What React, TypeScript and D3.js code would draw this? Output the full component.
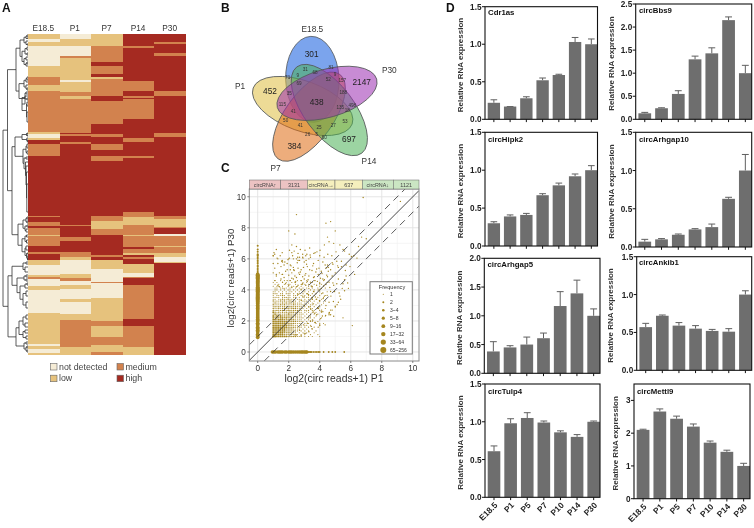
import React from "react";
import * as d3 from "d3";

// ---------- Panel A data ----------
const stages = ["E18.5", "P1", "P7", "P14", "P30"];
const levelNames = ["not detected", "low", "medium", "high"];
const levelColors: Record<string, string> = { n: "#f5ecd6", l: "#e6c27d", m: "#d2824e", h: "#a52a21" };
type Run = [string, number];
const heatE185: Run[] = [["l",5],["n",8],["l",12],["n",32],["l",43],["m",51],["l",57],["m",98],["l",100],["n",104],["l",106],["h",110],["m",122],["h",182],["m",183],["h",188],["m",192],["h",194],["m",201],["l",202],["m",212],["h",218],["m",220],["h",226],["l",231],["n",241],["l",243],["m",245],["n",252],["l",256],["n",279],["l",310],["n",312],["l",315],["n",319],["l",320]];
const heatP1: Run[] = [["n",5],["l",12],["n",22],["m",24],["l",46],["n",48],["l",58],["m",62],["l",65],["m",99],["h",100],["m",102],["h",108],["m",110],["h",191],["m",192],["h",203],["m",207],["h",218],["m",223],["l",226],["n",240],["l",244],["m",247],["n",251],["l",255],["n",265],["l",268],["n",280],["l",286],["m",313],["l",320]];
const heatP7: Run[] = [["l",12],["m",28],["h",32],["m",40],["h",43],["l",45],["m",62],["h",67],["m",90],["h",100],["m",103],["h",110],["m",116],["h",122],["m",127],["h",182],["m",187],["l",189],["l",195],["m",201],["h",221],["m",223],["h",226],["l",230],["l",235],["n",248],["m",249],["n",264],["l",287],["m",292],["l",303],["m",311],["l",318],["m",320]];
const heatP14: Run[] = [["h",12],["m",13.5],["h",47],["m",57],["h",62],["m",63.5],["h",65],["m",85],["h",104],["m",108],["h",122],["m",124],["h",178],["m",183],["l",191],["m",201],["l",202],["m",213],["h",215],["m",219],["l",221],["h",223],["m",225],["h",230],["l",239],["n",243],["m",244],["h",251],["m",285],["h",292],["m",313],["l",320]];
const heatP30: Run[] = [["h",8],["m",10],["h",19],["m",22],["h",57],["m",62],["h",99],["m",103],["h",182],["m",185],["l",193],["m",194],["h",200],["n",202],["m",212],["l",213],["m",219],["l",223],["n",228],["l",229],["h",320]];
const heatColumns = [heatE185, heatP1, heatP7, heatP14, heatP30];

type TreeNode = number | [number, ...TreeNode[]];
const dendroTop: TreeNode = [12,
  [8,
    [4, [2, [1, 1, 3], 4.5], [2, 7, [1, 10, 11]]],
    [6, [3, [1, 13, 16], [1, 19, 21]], [4, [2, 23, 26], [2, [1, 28, 30], 32]]]],
  [9,
    [4, [2, [1, 43, 46], 48], [2, 51, [1, 54, 56]]],
    [3, [2, 58, 60], [6, [3, 62, [1, 64, 66]], [1.5, [1, 68, 72], [1, 78, 88]]]]]];
const dendroMid: TreeNode = [16,
  [13,
    [6, [1.5, [0.8, 99, 100], [0.8, 101, 102]], [1.2, 104, [0.6, 106, 108]]],
    [5, [2, [1, 110, 114], [1, 117, 120]], [4, [2, 123, 125], [2.5, 128, [2, 132, [1.5, 138, [1.2, 150, 178]]]]]]],
  [10,
    [5, [2, [1, 183, 185], [1, 187, 189]], [3, [1, 191, 193], [2, 195, 198]]],
    [6, [3, [1.5, 201, 203], [1.5, 206, 209]], [3, [2, 212, 216], [1.5, [0.8, 219, 220], [0.8, 222, [0.5, 224, 226]]]]]]];
const dendroBottom: TreeNode = [20,
  [16, [5, [2, 228, 230], [3, 233, 238]], [11, [4, [2, 241, 243], [2, 245, 247]], [8, [3, [1, 249, 251], 254], [5, [2, 257, 262], [2, 268, 274]]]]],
  [12, [9, [5, [2, 281, 285], [3, 289, 293]], [5, [3, 296, 299], [2, 302, 305]]], [4, [2, 308, 310], [2, [1, 312, 314], [1, 316, 318]]]]];
const dendrogram: TreeNode = [25, [20.5, dendroTop, dendroMid], dendroBottom];

// ---------- Panel B data ----------
const vennNames = ["E18.5", "P1", "P7", "P14", "P30"];
const vennColors = ["#0f5ade", "#dfbd3f", "#de6a10", "#4ab156", "#9a2cb0"];
const vennShape = [
  { cx: 292, cy: 238, rx: 129, ry: 80, a: 88 },
  { cx: 263, cy: 318, rx: 158, ry: 75, a: 20 },
  { cx: 282, cy: 350, rx: 157, ry: 72, a: -54 },
  { cx: 343, cy: 330, rx: 162, ry: 75, a: 53 },
  { cx: 336, cy: 280, rx: 155, ry: 72, a: -16 },
];
const vennNameSpots = [[292, 87], [75, 258], [182, 503], [462, 484], [523, 210]];
const vennBig = [["301", 290, 161], ["452", 165, 272], ["2147", 440, 245], ["697", 402, 416], ["384", 238, 438], ["438", 305, 306]] as const;
const vennSmall = [["71",218,233],["31",271,208],["81",348,203],["68",300,218],["69",252,249],["52",340,238],["157",382,240],["35",223,281],["188",385,277],["115",202,312],["41",235,335],["135",376,323],["498",412,315],["50",212,360],["41",256,375],["25",312,381],["27",355,375],["53",390,365],["26",278,403],["60",328,412],["5",305,402],["9",248,225],["9",360,222],["18",397,330]] as const;

// ---------- Panel C data ----------
const stripCells = [["circRNA↑", "#ecc3c3"], ["3131", "#ecc3c3"], ["circRNA→", "#f5efbd"], ["637", "#f5efbd"], ["circRNA↓", "#cbe6c3"], ["1121", "#cbe6c3"]];
const stripWidths = [94, 80, 83, 82, 93, 77];
const freqLabels = ["1", "2", "3~4", "5~8", "9~16", "17~32", "33~64", "65~256"];
const freqRadius = [0.55, 1.0, 1.3, 1.6, 1.9, 2.2, 2.6, 3.0];
const denseRadius = [0.55, 0.72, 0.9, 1.15];
const readLevels = [1,1.12,1.24,1.36,1.48,1.6,1.72,1.84,1.96,2.08,2.2,2.32,2.44,2.56,2.68,2.8,2.92,3.04,3.16,3.28,3.4,3.52,3.64,3.76,3.88,4,4.12,4.24,4.36,4.48,4.6];
const denseMatrix = [
  "4433333322222111010101000100000",
  "3333332222211101010010001000000",
  "3333332222111010101000100000000",
  "3333333222211101010100010000000",
  "3333333222211110101001000000000",
  "3333333322221111010100100000000",
  "3333333322211101011010000100000",
  "3333333322221111010100010001000",
  "3333333322222111101011001000000",
  "3323332222221111010101000100000",
  "3232332322211111101010100010000",
  "3232322222212111010110010000100",
  "2322212222212111101010101000000",
  "3212121212221211010101010010000",
  "2121212122121211010101100100000",
  "2112122121222111101011001000100",
  "1212112112212111010110100100000",
  "2111212111121111101011010010000",
  "1211121212121111010101001001000",
  "2111212112111010111010100100100",
  "1101121121110111010101010010000",
  "1111011211011010101101001001000",
  "1011121011011101010110100100100",
  "1110110111010110101001010010000",
  "1101010101101010110100100100010",
  "0110101011010101010010100100000",
  "0110110101001010101001001000100",
  "1011010010110101000101000100000",
  "0101001011001001010100100010000",
  "1010010100101000101001000100010",
  "0100101001000101001000100001000",
];
const p30OnlyY = [0.95,1.05,1.15,1.3,1.4,1.5,1.6,1.75,1.85,2,2.1,2.2,2.32,2.45,2.58,2.7,2.81,2.9,3,3.1,3.17,3.25,3.32,3.4,3.46,3.52,3.58,3.64,3.7,3.76,3.81,3.86,3.91,3.96,4,4.05,4.09,4.13,4.17,4.25,4.32,4.39,4.46,4.52,4.58,4.64,4.7,4.75,4.81,4.86,4.91,4.95,5];
const p30OnlySparse = [5.1,5.2,5.3,5.4,5.5,5.58,5.7,5.8,5.9,6,6.1,6.2,6.25,6.3,6.45,6.6,6.85];
const p1OnlyX = [0.95,1.05,1.15,1.3,1.4,1.5,1.6,1.75,1.85,2,2.1,2.2,2.32,2.45,2.58,2.7,2.81,2.9,3,3.1,3.17];
const p1OnlySparse = [3.25,3.32,3.4,3.46,3.58,3.7,3.81,3.91,4,4.25,4.58,4.81,5,5.58];
const scatterX = [6.8,9.2,2.5,4.7,4.4,2.0,5.0,2.4,1.2,2.5,2.35,2.2,2.9,3.1,3.4,3.7,4.0,4.3,4.6,4.9,5.3,5.6,6.05,6.2,5.9,5.5,6.5,6.7,7.0,2.7,3.0,3.3,3.6,3.9,4.2,4.5,4.8,5.1,5.4,5.7,1.1,1.3,1.5,1.7,1.9,2.1,2.3,2.6,2.8,3.2,3.5,3.8,4.1,4.4,4.7,5.0,5.2,1.4,1.6,1.8,2.0,2.2,2.4,2.7,2.9,3.1,3.3,3.6,3.9,4.2,4.5,4.8,1.2,1.5,1.7,1.9,2.3,2.5,2.8,3.0,3.4,3.7,4.0,4.3,4.6,4.9,5.2,5.5,1.3,1.6,1.8,2.1,2.4,2.6,2.9,3.2,3.5,3.8,4.1,4.4,5.8,1.1,1.4,1.7,2.0,2.2,2.5,2.8,3.1,3.3,3.6,3.9,4.2,4.7,5.1,5.6,2.6,2.9,3.2,3.5,3.8,4.0,4.3,4.6,3.0,3.3,3.6,3.9,4.1,4.4,4.8,4.6,4.9,4.7,5.0,5.3,5.5,4.2,4.6,3.4,3.7,4.0,3.5,3.9,2.7,3.0,3.3,2.5,2.8,3.1,2.4,2.6,2.9,1.1,1.3,1.0,1.6,1.9,1.2,2.1,5.7,5.2,6.1,4.0,4.5,2.2,2.0,6.4,1.58,2.32,3.58,3.91,2.81,4.17,1.0,1.58,1.0,2.0,1.0,1.58,2.3,2.58,3.17];
const scatterY = [9.95,9.7,8.85,8.4,8.3,7.8,7.8,7.6,6.6,6.8,6.5,6.4,6.3,6.2,6.1,6.4,6.2,6.9,7.1,7.0,6.9,6.5,6.15,6.2,6.3,6.6,6.8,7.4,7.3,5.9,5.8,6.0,5.7,5.9,5.8,5.6,5.75,5.85,5.5,5.6,5.4,5.7,5.5,5.6,5.3,5.6,5.45,5.4,5.3,5.5,5.25,5.35,5.2,5.4,5.3,5.1,5.45,5.1,5.0,5.2,4.95,5.1,4.9,5.0,4.85,5.05,4.9,4.8,5.0,4.7,4.85,4.9,4.9,4.7,4.8,4.6,4.7,4.8,4.6,4.7,4.5,4.6,4.4,4.65,4.5,4.3,4.7,4.4,4.3,4.5,4.4,4.6,4.5,4.3,4.4,4.55,4.2,4.3,4.1,4.35,4.45,4.6,4.2,4.1,4.3,4.15,4.2,4.05,4.3,4.1,3.9,4.0,3.8,3.9,4.4,3.95,3.7,3.6,3.75,3.5,3.4,3.3,3.6,3.2,3.0,2.9,3.1,2.8,2.6,3.0,2.7,2.5,2.3,2.4,2.9,3.6,2.2,2.6,2.4,2.0,1.9,1.8,1.5,1.6,1.4,1.2,1.3,1.1,1.05,1.2,1.1,5.9,6.1,6.3,6.0,6.2,5.8,5.7,5.0,5.3,4.9,3.2,1.7,1.7,7.4,6.9,2.45,6.05,5.0,5.3,2.58,2.81,3.32,2.32,6.2,6.4,5.7,6.0,5.1,5.9,6.0,6.1,6.3];
const extraX = [2.2,2.45,2.65,2.85,3.05,3.25,3.45,3.65,3.85,4.05,4.25,4.45,4.65,4.85,2.15,2.35,2.55,2.75,2.95,3.15,3.35,3.55,3.75,3.95,4.15,4.35,4.55,2.05,2.25,2.5,2.7,2.92,3.12,3.38,3.62,3.82,4.02,4.28,4.52,4.78,5.05,3.0,3.28,3.52,3.72,3.98,4.22,4.48,4.72,4.95,5.25,5.45,3.15,3.42,3.68,3.88,4.12,4.38,4.62,4.88,5.12,5.35,5.6,5.85,4.55,4.85,5.15,5.4,5.65,5.95,6.25,3.3,3.55,3.8,4.05,2.95,3.2,3.45,3.7,4.35,4.7,5.0,1.55,1.75,1.95,1.45,1.25,1.05,2.05,2.6,2.75,3.05,3.35];
const extraY = [4.75,4.55,5.1,4.35,4.95,4.65,4.25,4.85,4.55,4.75,4.25,4.95,4.15,4.45,5.55,5.25,5.75,5.15,5.45,5.65,5.3,5.55,5.15,5.4,5.05,5.6,5.2,6.05,6.2,6.0,6.1,6.05,5.9,6.25,6.35,6.45,6.55,6.1,6.3,6.2,6.45,3.55,3.7,3.4,3.55,3.3,3.45,3.65,3.6,3.9,3.8,4.1,2.65,2.75,2.5,2.85,2.7,2.35,2.55,3.25,3.05,3.4,4.65,4.1,5.45,5.65,5.55,5.85,5.25,5.5,5.0,2.2,2.05,2.4,2.15,1.75,1.85,1.65,1.9,1.75,2.7,2.95,5.85,5.8,5.95,6.2,6.05,6.4,6.55,6.35,6.6,6.55,6.7];

// ---------- Panel D data ----------
const timePoints = ["E18.5", "P1", "P5", "P7", "P10", "P14", "P30"];
const cdr1as = [0.22, 0.17, 0.28, 0.52, 0.59, 1.03, 1.0];
const cdr1asTop = [0.26, 0.17, 0.3, 0.55, 0.6, 1.09, 1.07];
const bbs9 = [0.13, 0.24, 0.55, 1.3, 1.43, 2.15, 1.0];
const bbs9Top = [0.15, 0.25, 0.62, 1.37, 1.55, 2.22, 1.17];
const hipk2 = [0.3, 0.39, 0.41, 0.67, 0.8, 0.92, 1.0];
const hipk2Top = [0.32, 0.41, 0.43, 0.69, 0.83, 0.95, 1.06];
const arhgap10 = [0.07, 0.1, 0.16, 0.23, 0.26, 0.63, 1.0];
const arhgap10Top = [0.1, 0.11, 0.17, 0.24, 0.3, 0.65, 1.21];
const arhgap5 = [0.38, 0.45, 0.5, 0.61, 1.17, 1.39, 1.0];
const arhgap5Top = [0.55, 0.48, 0.63, 0.7, 1.42, 1.62, 1.12];
const ankib1 = [0.57, 0.72, 0.59, 0.55, 0.52, 0.51, 1.0];
const ankib1Top = [0.62, 0.73, 0.63, 0.59, 0.54, 0.55, 1.05];
const tulp4 = [0.61, 0.98, 1.05, 0.99, 0.86, 0.8, 1.0];
const tulp4Top = [0.68, 1.04, 1.12, 1.01, 0.88, 0.83, 1.01];
const mettl9 = [2.1, 2.66, 2.44, 2.2, 1.71, 1.43, 1.0];
const mettl9Top = [2.12, 2.74, 2.52, 2.28, 1.76, 1.48, 1.08];

const barPanels = [
  { name: "Cdr1as", v: cdr1as, t: cdr1asTop, max: 1.5, ticks: [0, 0.5, 1, 1.5], l: 485, r: 597.5, top: 6.7, bot: 119.3, tx: 462.5, nx: 488, ny: 14.5 },
  { name: "circBbs9", v: bbs9, t: bbs9Top, max: 2.5, ticks: [0, 0.5, 1, 1.5, 2, 2.5], l: 635.7, r: 751.7, top: 4, bot: 119.3, tx: 613.5, nx: 639, ny: 12.5 },
  { name: "circHipk2", v: hipk2, t: hipk2Top, max: 1.5, ticks: [0, 0.5, 1, 1.5], l: 485, r: 597.5, top: 132.3, bot: 246, tx: 462.5, nx: 488, ny: 141.5 },
  { name: "circArhgap10", v: arhgap10, t: arhgap10Top, max: 1.5, ticks: [0, 0.5, 1, 1.5], l: 635.7, r: 751.7, top: 132.3, bot: 247, tx: 613.5, nx: 639, ny: 141.5 },
  { name: "circArhgap5", v: arhgap5, t: arhgap5Top, max: 2, ticks: [0, 0.5, 1, 1.5, 2], l: 484.3, r: 600, top: 258.3, bot: 373.3, tx: 461.5, nx: 487.5, ny: 267 },
  { name: "circAnkib1", v: ankib1, t: ankib1Top, max: 1.5, ticks: [0, 0.5, 1, 1.5], l: 636.7, r: 751.7, top: 256.7, bot: 370.3, tx: 613, nx: 639, ny: 265 },
  { name: "circTulp4", v: tulp4, t: tulp4Top, max: 1.5, ticks: [0, 0.5, 1, 1.5], l: 485, r: 600, top: 384, bot: 497.3, tx: 462.5, nx: 488, ny: 393.5 },
  { name: "circMettl9", v: mettl9, t: mettl9Top, max: 3.5, ticks: [0, 1, 2, 3], l: 634, r: 750, top: 384, bot: 498.7, tx: 618, nx: 637, ny: 393.5 },
];

const SANS = "'Liberation Sans', Arial, sans-serif";

function Dendro() {
  const xH = d3.scaleLinear().domain([0, 25]).range([28, 3]);
  const yR = d3.scaleLinear().domain([0, 320]).range([34, 354]);
  const segs: string[] = [];
  const walk = (n: TreeNode): [number, number] => {
    if (typeof n === "number") return [xH(0), yR(n)];
    const [h, ...kids] = n;
    const pts = kids.map(walk);
    const x = xH(h);
    const ys = pts.map((p) => p[1]);
    const lo = Math.min(...ys), hi = Math.max(...ys);
    segs.push(`M${x},${lo}V${hi}`);
    pts.forEach((p) => segs.push(`M${x},${p[1]}H${p[0]}`));
    return [x, (lo + hi) / 2];
  };
  walk(dendrogram);
  return <path d={segs.join("")} fill="none" stroke="#333" strokeWidth={0.8} />;
}

function Heatmap() {
  const x = d3.scaleBand().domain(stages).range([28, 186]);
  const y = d3.scaleLinear().domain([0, 320]).range([34, 354.5]);
  return (
    <g fontFamily={SANS}>
      {stages.map((s, i) => {
        let prev = 0;
        return (
          <g key={s}>
            {heatColumns[i].map(([lv, end], j) => {
              const st = prev;
              prev = end;
              return <rect key={j} x={x(s)} width={x.bandwidth()} y={y(st)} height={y(end) - y(st)} fill={levelColors[lv]} shapeRendering="crispEdges" />;
            })}
            <text x={x(s)! + x.bandwidth() / 2 - 0.5} y={30.5} textAnchor="middle" fontSize={8.3} fill="#333">{s}</text>
          </g>
        );
      })}
      <Dendro />
      {levelNames.map((nm, i) => {
        const col = i < 2 ? 0 : 1;
        const row = i % 2;
        const sx = col === 0 ? 50.5 : 117;
        const sy = 363.5 + row * 11.7;
        return (
          <g key={nm}>
            <rect x={sx} y={sy} width={6.5} height={6.5} fill={levelColors["nlmh"[i]]} stroke="#666" strokeWidth={0.6} />
            <text x={sx + 8.5} y={sy + 6} fontSize={8.8} fill="#444">{nm}</text>
          </g>
        );
      })}
    </g>
  );
}

function Venn() {
  const px = d3.scaleLinear().domain([0, 645]).range([215, 430]);
  const py = d3.scaleLinear().domain([0, 540]).range([0, 180]);
  const k = 1 / 3;
  const drawOrder = [0, 1, 2, 3, 4];
  return (
    <g fontFamily={SANS} fill="#333">
      {drawOrder.map((i) => {
        const s = vennShape[i];
        return (
          <ellipse key={vennNames[i]} cx={0} cy={0} rx={s.rx * k} ry={s.ry * k}
            transform={`translate(${px(s.cx)},${py(s.cy)}) rotate(${s.a})`}
            fill={vennColors[i]} fillOpacity={0.55} stroke="#55595a" strokeWidth={0.8} />
        );
      })}
      {vennNames.map((n, i) => (
        <text key={n} x={px(vennNameSpots[i][0])} y={py(vennNameSpots[i][1]) + 3} textAnchor="middle" fontSize={8.3}>{n}</text>
      ))}
      {vennBig.map(([t, a, b]) => (
        <text key={t} x={px(a)} y={py(b) + 3} textAnchor="middle" fontSize={8.3} fill="#222">{t}</text>
      ))}
      {vennSmall.map(([t, a, b], i) => (
        <text key={i} x={px(a)} y={py(b) + 1.7} textAnchor="middle" fontSize={4.6} fill="#333">{t}</text>
      ))}
    </g>
  );
}

function Scatter() {
  const left = 249.3, right = 419, top = 189, bottom = 361;
  const x = d3.scaleLinear().domain([-0.542, 10.4]).range([left, right]);
  const y = d3.scaleLinear().domain([-0.58, 10.5]).range([bottom, top]);
  const gold = "#a5861f";
  const ticks = [0, 2, 4, 6, 8, 10];
  const minor = [1, 3, 5, 7, 9];
  const stripX = d3.scaleLinear().domain([0, d3.sum(stripWidths)]).range([left, right]);
  let acc = 0;
  const line = (o: number) => {
    const a = Math.max(-0.542, -0.58 - o);
    const b = Math.min(10.4, 10.5 - o);
    return { x1: x(a), y1: y(a + o), x2: x(b), y2: y(b + o) };
  };
  const legendY = d3.scalePoint<string>().domain(freqLabels).range([294.3, 350]);
  return (
    <g fontFamily={SANS}>
      <defs><clipPath id="scClip"><rect x={left} y={top} width={right - left} height={bottom - top} /></clipPath></defs>
      <rect x={left} y={top} width={right - left} height={bottom - top} fill="#fff" />
      {minor.map((t) => (
        <g key={t} stroke="#f0f0f0" strokeWidth={0.6}>
          <line x1={x(t)} x2={x(t)} y1={top} y2={bottom} />
          <line y1={y(t)} y2={y(t)} x1={left} x2={right} />
        </g>
      ))}
      {ticks.map((t) => (
        <g key={t} stroke="#e2e2e2" strokeWidth={0.9}>
          <line x1={x(t)} x2={x(t)} y1={top} y2={bottom} />
          <line y1={y(t)} y2={y(t)} x1={left} x2={right} />
        </g>
      ))}
      <g clipPath="url(#scClip)" fill={gold}>
        {p30OnlyY.map((v, i) => <circle key={i} cx={x(0)} cy={y(v)} r={1.9} />)}
        {p30OnlySparse.map((v, i) => <circle key={i} cx={x(0)} cy={y(v)} r={1.0} />)}
        {p1OnlyX.map((v, i) => <circle key={i} cx={x(v)} cy={y(0)} r={1.8} />)}
        {p1OnlySparse.map((v, i) => <circle key={i} cx={x(v)} cy={y(0)} r={0.9} />)}
        {denseMatrix.map((row, r) =>
          row.split("").map((c, q) => c === "0" ? null :
            <circle key={`${r}-${q}`} cx={x(readLevels[q])} cy={y(readLevels[r])} r={denseRadius[+c - 1]} />)
        )}
        {scatterX.map((v, i) => <circle key={i} cx={x(v)} cy={y(scatterY[i])} r={0.7} />)}
        {extraX.map((v, i) => <circle key={i} cx={x(v)} cy={y(extraY[i])} r={0.7} />)}
      </g>
      <g clipPath="url(#scClip)" stroke="#333" fill="none">
        <line {...line(0)} strokeWidth={0.9} />
        <line {...line(1)} strokeWidth={0.8} strokeDasharray="7 5" />
        <line {...line(-1)} strokeWidth={0.8} strokeDasharray="7 5" />
      </g>
      <rect x={left} y={top} width={right - left} height={bottom - top} fill="none" stroke="#8a8a8a" strokeWidth={1} />
      {stripCells.map(([t, c], i) => {
        const a = acc; acc += stripWidths[i];
        const x0 = stripX(a), x1 = stripX(acc);
        return (
          <g key={i}>
            <rect x={x0} y={180} width={x1 - x0} height={9} fill={c} stroke="#666" strokeWidth={0.5} />
            <text x={(x0 + x1) / 2} y={187} fontSize={5.4} textAnchor="middle" fill="#444">{t}</text>
          </g>
        );
      })}
      {ticks.map((t) => (
        <g key={t}>
          <line x1={x(t)} x2={x(t)} y1={bottom} y2={bottom + 2} stroke="#555" strokeWidth={0.7} />
          <text x={x(t)} y={371} textAnchor="middle" fontSize={8.2} fill="#333">{t}</text>
          <line y1={y(t)} y2={y(t)} x1={left - 2} x2={left} stroke="#555" strokeWidth={0.7} />
          <text x={left - 3.5} y={y(t) + 3} textAnchor="end" fontSize={8.2} fill="#333">{t}</text>
        </g>
      ))}
      <text x={334} y={382} textAnchor="middle" fontSize={10.4} fill="#333">log2(circ reads+1) P1</text>
      <text transform="translate(234,278) rotate(-90)" textAnchor="middle" fontSize={9.8} fill="#333">log2(circ reads+1) P30</text>
      <rect x={370} y={281.7} width={42.3} height={72.3} fill="#fff" stroke="#7a7a7a" strokeWidth={1} />
      <text x={392} y={288.8} textAnchor="middle" fontSize={5.6} fill="#333">Frequency</text>
      {freqLabels.map((l, i) => (
        <g key={l}>
          <circle cx={383.3} cy={legendY(l)} r={freqRadius[i]} fill={gold} />
          <text x={390} y={legendY(l)! + 1.9} fontSize={5} fill="#333">{l}</text>
        </g>
      ))}
    </g>
  );
}

function BarPanel({ p, showX }: { p: (typeof barPanels)[number]; showX: boolean }) {
  const x = d3.scaleBand().domain(timePoints).range([p.l + 2.7, p.r]).paddingInner(0.24).paddingOuter(0);
  const y = d3.scaleLinear().domain([0, p.max]).range([p.bot, p.top]);
  const bw = x.bandwidth();
  const cap = bw * 0.27;
  return (
    <g fontFamily={SANS} fontWeight={700}>
      {timePoints.map((t, i) => {
        const cx = x(t)! + bw / 2;
        return (
          <g key={t}>
            <line x1={cx} x2={cx} y1={y(p.t[i])} y2={y(p.v[i])} stroke="#5f5f5f" strokeWidth={1} />
            <line x1={cx - cap} x2={cx + cap} y1={y(p.t[i])} y2={y(p.t[i])} stroke="#5f5f5f" strokeWidth={1} />
            <rect x={x(t)} y={y(p.v[i])} width={bw} height={p.bot - y(p.v[i])} fill="#6e6e6e" />
            <line x1={cx} x2={cx} y1={p.bot} y2={p.bot + 2.8} stroke="#111" strokeWidth={1} />
            {showX && (
              <text transform={`translate(${cx + 4},${p.bot + 8.5}) rotate(-45)`} textAnchor="end" fontSize={8.4} fill="#222">{t}</text>
            )}
          </g>
        );
      })}
      <rect x={p.l} y={p.top} width={p.r - p.l} height={p.bot - p.top} fill="none" stroke="#111" strokeWidth={1.1} />
      {p.ticks.map((t) => (
        <g key={t}>
          <line x1={p.l - 3} x2={p.l} y1={y(t)} y2={y(t)} stroke="#111" strokeWidth={1} />
          <text x={p.l - 3.5} y={y(t) + 3} textAnchor="end" fontSize={8.2} fill="#222">{p.max === 3.5 ? d3.format("d")(t) : d3.format(".1f")(t)}</text>
        </g>
      ))}
      <text x={p.nx} y={p.ny} fontSize={7.8} fill="#111">{p.name}</text>
      <text transform={`translate(${p.tx},${(p.top + p.bot) / 2 + 2}) rotate(-90)`} textAnchor="middle" fontSize={8} fill="#333">Relative RNA expression</text>
    </g>
  );
}

export default function App() {
  return (
    <svg width={754} height={528} viewBox="0 0 754 528" style={{ position: "absolute", left: 0, top: 0, background: "#fff", filter: "blur(0.35px)" }}>
      <Heatmap />
      <Venn />
      <Scatter />
      {barPanels.map((p, i) => <BarPanel key={p.name} p={p} showX={i >= 6} />)}
      <g fontFamily={SANS} fontWeight={700} fontSize={12} fill="#111">
        <text x={2} y={12}>A</text>
        <text x={221} y={12}>B</text>
        <text x={221} y={172}>C</text>
        <text x={446} y={12}>D</text>
      </g>
    </svg>
  );
}
